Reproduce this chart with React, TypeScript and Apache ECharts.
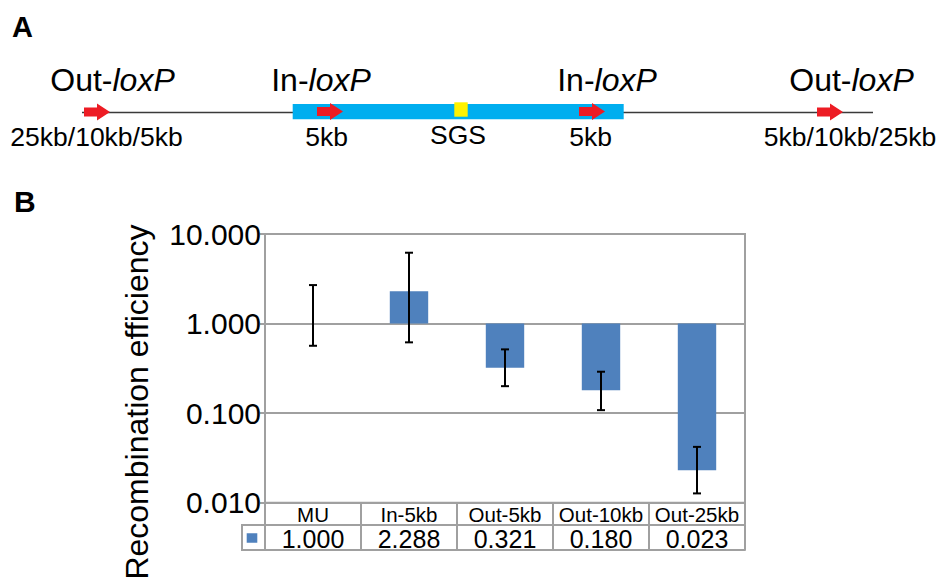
import React, { useEffect, useRef } from "react";
import * as echarts from "echarts";

const categories = ["MU", "In-5kb", "Out-5kb", "Out-10kb", "Out-25kb"];
const efficiency = [1.0, 2.288, 0.321, 0.18, 0.023];
const errLow = [0.565, 0.617, 0.2, 0.108, 0.0127];
const errHigh = [2.69, 6.18, 0.515, 0.29, 0.042];
const yTicks = [0.01, 0.1, 1, 10];

const FONT = "'Liberation Sans', Arial, Helvetica, sans-serif";
const GRAY = "#a0a0a0";
const BLUE = "#4f81bd";

function arrow(x0: number, cy: number) {
  return {
    type: "polygon",
    shape: {
      points: [
        [x0, cy - 4.5],
        [x0 + 13, cy - 4.5],
        [x0 + 13, cy - 8.5],
        [x0 + 26, cy],
        [x0 + 13, cy + 8.5],
        [x0 + 13, cy + 4.5],
        [x0, cy + 4.5],
      ],
    },
    style: { fill: "#ed1c24" },
    z: 20,
  };
}

function loxLabel(cx: number, cy: number, prefix: string) {
  return {
    type: "text",
    x: cx,
    y: cy,
    style: {
      text: `{n|${prefix}-}{i|loxP}`,
      align: "center",
      verticalAlign: "middle",
      rich: {
        n: { fontSize: 32, fontFamily: FONT, fill: "#000" },
        i: { fontSize: 32, fontFamily: FONT, fontStyle: "italic", fill: "#000" },
      },
    },
  };
}

function plain(cx: number, cy: number, text: string, size = 26.5) {
  return {
    type: "text",
    x: cx,
    y: cy,
    style: {
      text,
      align: "center",
      verticalAlign: "middle",
      fontSize: size,
      fontFamily: FONT,
      fill: "#000",
    },
  };
}

export default function App() {
  const ref = useRef<HTMLDivElement>(null);
  useEffect(() => {
    if (!ref.current) return;
    const chart = echarts.init(ref.current, undefined, { renderer: "svg" });
    const barData = categories.map((c, i) => [i, efficiency[i]]);
    const errData = categories.map((c, i) => [i, errLow[i], errHigh[i]]);
    const option: any = {
      animation: false,
      backgroundColor: "#fff",
      grid: {
        left: 265,
        right: 193,
        top: 234,
        bottom: 78.3,
        show: true,
        borderColor: GRAY,
        borderWidth: 2,
      },
      xAxis: [
        {
          type: "category",
          data: categories,
          position: "bottom",
          axisLine: { show: true, lineStyle: { color: GRAY, width: 2 } },
          axisTick: { show: true, interval: 0, length: 22, lineStyle: { color: GRAY, width: 2 } },
          axisLabel: { interval: 0, margin: 2, fontSize: 20.5, lineHeight: 20, color: "#000", fontFamily: FONT },
          splitLine: { show: false },
        },
        {
          type: "category",
          data: efficiency.map((v) => v.toFixed(3)),
          position: "bottom",
          offset: 22.3,
          axisLine: { show: true, lineStyle: { color: GRAY, width: 2 } },
          axisTick: { show: true, interval: 0, length: 25, lineStyle: { color: GRAY, width: 2 } },
          axisLabel: { interval: 0, margin: 1, fontSize: 25, lineHeight: 25, color: "#000", fontFamily: FONT },
          splitLine: { show: false },
        },
        {
          type: "category",
          data: categories,
          position: "bottom",
          offset: 47.3,
          axisLine: { show: true, lineStyle: { color: GRAY, width: 2 } },
          axisTick: { show: false },
          axisLabel: { show: false },
          splitLine: { show: false },
        },
      ],
      yAxis: {
        type: "log",
        logBase: 10,
        min: yTicks[0],
        max: yTicks[yTicks.length - 1],
        axisLine: { show: true, lineStyle: { color: GRAY, width: 2 } },
        axisTick: { show: true, length: 5, lineStyle: { color: GRAY, width: 2 } },
        axisLabel: {
          margin: 4,
          fontSize: 30,
          color: "#000",
          fontFamily: FONT,
          formatter: (v: number) => v.toFixed(3),
        },
        splitLine: { show: true, lineStyle: { color: GRAY, width: 2 } },
      },
      series: [
        {
          type: "custom",
          data: barData,
          z: 2,
          renderItem: (params: any, api: any) => {
            const i = api.value(0);
            const v = api.value(1);
            const p1 = api.coord([i, 1]);
            const p2 = api.coord([i, v]);
            const band = api.coord([1, 1])[0] - api.coord([0, 1])[0];
            const w = band * 0.4;
            return {
              type: "rect",
              shape: {
                x: p1[0] - w / 2,
                y: Math.min(p1[1], p2[1]),
                width: w,
                height: Math.abs(p2[1] - p1[1]),
              },
              style: { fill: BLUE },
            };
          },
        },
        {
          type: "custom",
          data: errData,
          z: 3,
          renderItem: (params: any, api: any) => {
            const i = api.value(0);
            const lo = api.coord([i, api.value(1)]);
            const hi = api.coord([i, api.value(2)]);
            const cw = 4;
            const st = { stroke: "#000", lineWidth: 2 };
            return {
              type: "group",
              children: [
                { type: "line", shape: { x1: lo[0], y1: lo[1], x2: hi[0], y2: hi[1] }, style: st },
                { type: "line", shape: { x1: lo[0] - cw, y1: lo[1], x2: lo[0] + cw, y2: lo[1] }, style: st },
                { type: "line", shape: { x1: hi[0] - cw, y1: hi[1], x2: hi[0] + cw, y2: hi[1] }, style: st },
              ],
            };
          },
        },
      ],
      graphic: [
        // Panel letters
        { type: "text", x: 12, y: 27, style: { text: "A", fontSize: 29, fontWeight: "bold", fontFamily: FONT, fill: "#000", verticalAlign: "middle" } },
        { type: "text", x: 14, y: 201, style: { text: "B", fontSize: 30, fontWeight: "bold", fontFamily: FONT, fill: "#000", verticalAlign: "middle" } },
        // Panel A diagram
        { type: "line", shape: { x1: 82, y1: 112.5, x2: 873, y2: 112.5 }, style: { stroke: "#3a3a3a", lineWidth: 1.5 } },
        { type: "rect", shape: { x: 292.7, y: 104, width: 331, height: 15.3 }, style: { fill: "#00aeef" }, z: 5 },
        { type: "rect", shape: { x: 454.3, y: 102.3, width: 13.4, height: 14.4 }, style: { fill: "#fff200" }, z: 6 },
        arrow(84, 112),
        arrow(317, 111.5),
        arrow(579, 111.5),
        arrow(817, 112),
        loxLabel(112.5, 80, "Out"),
        loxLabel(321, 80, "In"),
        loxLabel(607, 80, "In"),
        loxLabel(851.5, 80, "Out"),
        plain(96.5, 136.5, "25kb/10kb/5kb"),
        plain(326.5, 136.5, "5kb"),
        plain(458, 135, "SGS"),
        plain(590.5, 136.5, "5kb"),
        plain(850, 136.5, "5kb/10kb/25kb"),
        // Y axis title
        {
          type: "text",
          x: 137,
          y: 402,
          rotation: Math.PI / 2,
          style: {
            text: "Recombination efficiency",
            fontSize: 32,
            fontFamily: FONT,
            fill: "#000",
            align: "center",
            verticalAlign: "middle",
          },
        },
        // Legend cell of the data table
        { type: "rect", shape: { x: 242, y: 525, width: 23, height: 25 }, style: { fill: "none", stroke: GRAY, lineWidth: 2 } },
        { type: "rect", shape: { x: 246.7, y: 533.3, width: 10.6, height: 9.4 }, style: { fill: BLUE } },
      ],
    };
    chart.setOption(option);
    return () => chart.dispose();
  }, []);
  return (
    <div
      ref={ref}
      style={{ position: "absolute", left: 0, top: 0, width: 938, height: 581, background: "#fff" }}
    />
  );
}
